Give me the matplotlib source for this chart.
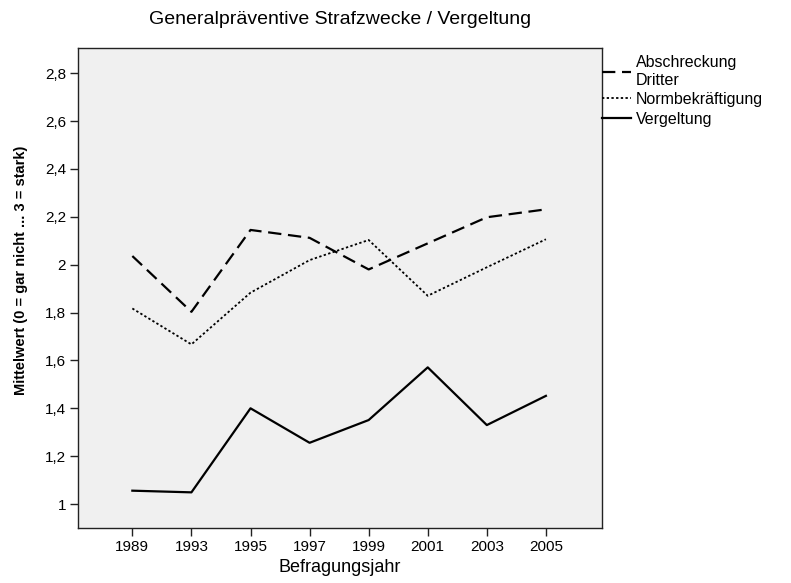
import numpy as np
import matplotlib.pyplot as plt

plt.rcParams['font.family'] = ['Liberation Sans', 'DejaVu Sans']

# Werte
jahre = ['1989', '1993', '1995', '1997', '1999', '2001', '2003', '2005']
abschreckung = [2.036, 1.803, 2.145, 2.112, 1.980, 2.089, 2.198, 2.231]
normbekraeftigung = [1.817, 1.667, 1.883, 2.019, 2.103, 1.870, 1.989, 2.106]
vergeltung = [1.056, 1.049, 1.400, 1.256, 1.351, 1.571, 1.330, 1.452]

y_ticks = [1, 1.2, 1.4, 1.6, 1.8, 2, 2.2, 2.4, 2.6, 2.8]
y_labels = ['1', '1,2', '1,4', '1,6', '1,8', '2', '2,2', '2,4', '2,6', '2,8']


def plotar():
    fig = plt.figure(figsize=(7.91, 5.83), dpi=100)
    ax = fig.add_axes([0.0986, 0.0943, 0.6625, 0.8234])
    ax.set_facecolor('#f0f0f0')

    x = np.arange(len(jahre))
    ax.plot(x, abschreckung, color='black', lw=1.6, dashes=(6, 3),
            label='Abschreckung\nDritter')
    ax.plot(x, normbekraeftigung, color='black', lw=1.3, dashes=(1.3, 1.3),
            label='Normbekräftigung')
    ax.plot(x, vergeltung, color='black', lw=1.6, label='Vergeltung')

    ax.set_xlim(-0.92, 7.95)
    ax.set_ylim(0.9, 2.905)
    ax.set_xticks(x)
    ax.set_xticklabels(jahre, fontsize=11)
    ax.set_yticks(y_ticks)
    ax.set_yticklabels(y_labels, fontsize=11)
    ax.tick_params(direction='out', length=5.5, width=1, color='#222222',
                   pad=3)
    for s in ax.spines.values():
        s.set_color('#222222')
        s.set_linewidth(1)

    ax.set_xlabel('Befragungsjahr', fontsize=13, labelpad=4)
    ax.set_ylabel('Mittelwert (0 = gar nicht ... 3 = stark)', fontsize=10.5,
                  fontweight='bold')
    ax.yaxis.set_label_coords(-0.095, 0.5375)
    ax.set_title('Generalpräventive Strafzwecke / Vergeltung', fontsize=14,
                 pad=17)

    ax.legend(loc='upper left', bbox_to_anchor=(1.0, 0.985),
              frameon=False, borderaxespad=0, borderpad=0,
              handlelength=1.8, handletextpad=0.3, labelspacing=0.28,
              fontsize=11.5)

    fig.savefig('out.png', dpi=100)


if __name__ == '__main__':
    plotar()
